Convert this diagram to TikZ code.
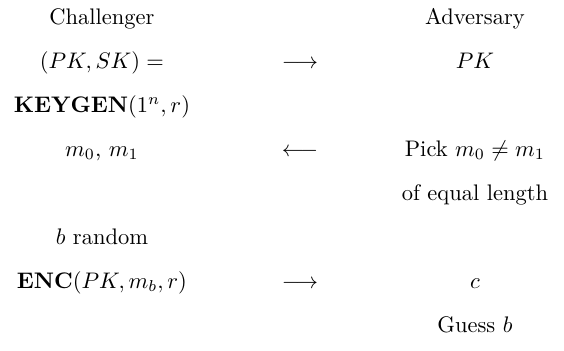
\documentclass[tikz,border=0pt]{standalone}
\usepackage{amsmath}
\begin{document}
\begin{tikzpicture}[x=1pt,y=1pt,
  cell/.style={anchor=base,inner sep=0pt,outer sep=0pt}]
\useasboundingbox (0,0) rectangle (250.7,156);
\def\ca{45.3}\def\cb{133.3}\def\cc{211.1}
% rows (baselines)
\node[cell] (ch) at (\ca,144.9) {Challenger};
\node[cell] (ad) at (\cc,144.9) {Adversary};
\node[cell] (pksk) at (\ca,125.4) {$(PK,SK) =$};
\node[cell] (a1) at (\cb,125.4) {$\longrightarrow$};
\node[cell] (pk) at (\cc,125.4) {$PK$};
\node[cell] (kg) at (\ca,105.9) {$\mathbf{KEYGEN}(1^n,r)$};
\node[cell] (mm) at (\ca,86.4) {$m_0$, $m_1$};
\node[cell] (a2) at (\cb,86.4) {$\longleftarrow$};
\node[cell] (pick) at (\cc,86.4) {Pick $m_0\neq m_1$};
\node[cell] (eq) at (\cc,66.9) {of equal length};
\node[cell] (br) at (\ca,47.4) {$b$ random};
\node[cell] (enc) at (\ca,27.9) {$\mathbf{ENC}(PK,m_b,r)$};
\node[cell] (a3) at (\cb,27.9) {$\longrightarrow$};
\node[cell] (c) at (\cc,27.9) {$c$};
\node[cell] (gb) at (\cc,8.4) {Guess $b$};
\end{tikzpicture}
\end{document}
